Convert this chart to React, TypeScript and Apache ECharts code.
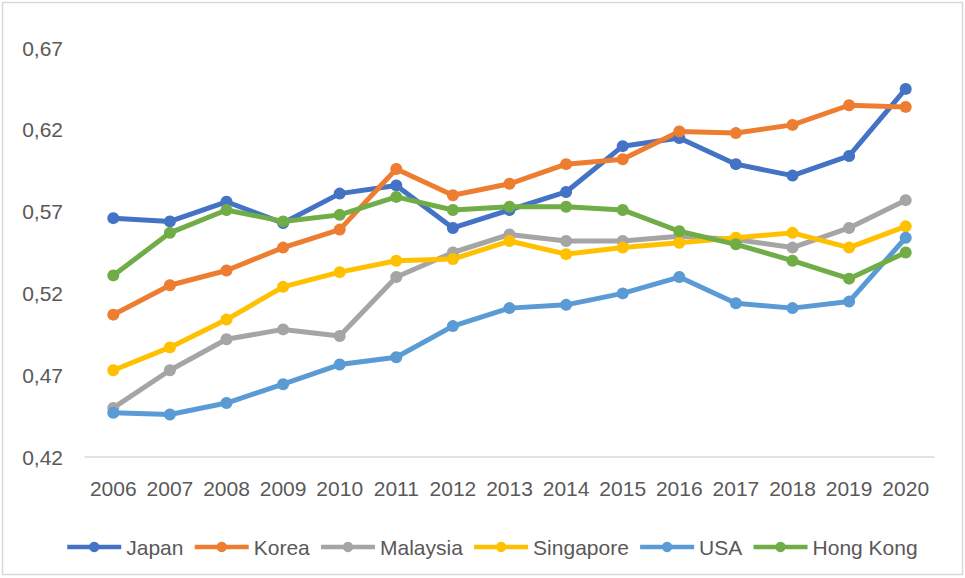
import React, { useEffect, useRef } from "react";
import * as echarts from "echarts";

const years = ["2006","2007","2008","2009","2010","2011","2012","2013","2014","2015","2016","2017","2018","2019","2020"];
const japan = [0.566,0.564,0.576,0.563,0.581,0.586,0.560,0.571,0.582,0.610,0.615,0.599,0.592,0.604,0.645];
const korea = [0.507,0.525,0.534,0.548,0.559,0.596,0.580,0.587,0.599,0.602,0.619,0.618,0.623,0.635,0.634];
const malaysia = [0.450,0.473,0.492,0.498,0.494,0.530,0.545,0.556,0.552,0.552,0.555,0.553,0.548,0.560,0.577];
const singapore = [0.473,0.487,0.504,0.524,0.533,0.540,0.541,0.552,0.544,0.548,0.551,0.554,0.557,0.548,0.561];
const usa = [0.447,0.446,0.453,0.4645,0.4765,0.481,0.500,0.511,0.513,0.520,0.530,0.514,0.511,0.515,0.554];
const hongKong = [0.531,0.557,0.571,0.564,0.568,0.579,0.571,0.573,0.573,0.571,0.558,0.550,0.540,0.529,0.545];

const seriesDefs = [
  { name: "Japan", data: japan, color: "#4472C4" },
  { name: "Korea", data: korea, color: "#ED7D31" },
  { name: "Malaysia", data: malaysia, color: "#A5A5A5" },
  { name: "Singapore", data: singapore, color: "#FFC000" },
  { name: "USA", data: usa, color: "#5B9BD5" },
  { name: "Hong Kong", data: hongKong, color: "#70AD47" },
];

const FONT = "'Liberation Sans', Arial, sans-serif";

export default function App() {
  const ref = useRef<HTMLDivElement>(null);
  useEffect(() => {
    if (!ref.current) return;
    const chart = echarts.init(ref.current, undefined, { renderer: "svg" });
    chart.setOption({
      animation: false,
      backgroundColor: "#ffffff",
      textStyle: { fontFamily: FONT },
      graphic: [
        {
          type: "rect",
          shape: { x: 2.5, y: 2.5, width: 960, height: 572 },
          style: { fill: "none", stroke: "#d9d9d9", lineWidth: 1.5 },
          silent: true,
        },
      ],
      grid: { left: 85, right: 31, top: 48, bottom: 121, containLabel: false, outerBoundsMode: "none" },
      legend: {
        left: 60,
        top: 531,
        itemWidth: 54,
        itemHeight: 13,
        itemGap: 9,
        lineStyle: { width: 4.5 },
        textStyle: { fontFamily: FONT, fontSize: 21, color: "#595959", lineHeight: 22 },
        data: seriesDefs.map((s) => s.name),
      },
      xAxis: {
        type: "category",
        data: years,
        boundaryGap: true,
        axisLine: { show: true, lineStyle: { color: "#d9d9d9", width: 1.5 } },
        axisTick: { show: false },
        axisLabel: { fontFamily: FONT, fontSize: 21, color: "#595959", margin: 21, interval: 0 },
        splitLine: { show: false },
      },
      yAxis: {
        type: "value",
        min: 0.42,
        max: 0.67,
        interval: 0.05,
        axisLine: { show: false },
        axisTick: { show: false },
        splitLine: { show: false },
        axisLabel: {
          fontFamily: FONT,
          fontSize: 21,
          color: "#595959",
          margin: 22,
          formatter: (v: number) => v.toFixed(2).replace(".", ","),
        },
      },
      series: seriesDefs.map((s) => ({
        name: s.name,
        type: "line",
        data: s.data,
        symbol: "circle",
        symbolSize: 12,
        showSymbol: true,
        lineStyle: { color: s.color, width: 5 },
        itemStyle: { color: s.color },
        emphasis: { disabled: true },
      })),
    });
    return () => chart.dispose();
  }, []);
  return (
    <div
      ref={ref}
      style={{ position: "absolute", left: 0, top: 0, width: 965, height: 578 }}
    />
  );
}
